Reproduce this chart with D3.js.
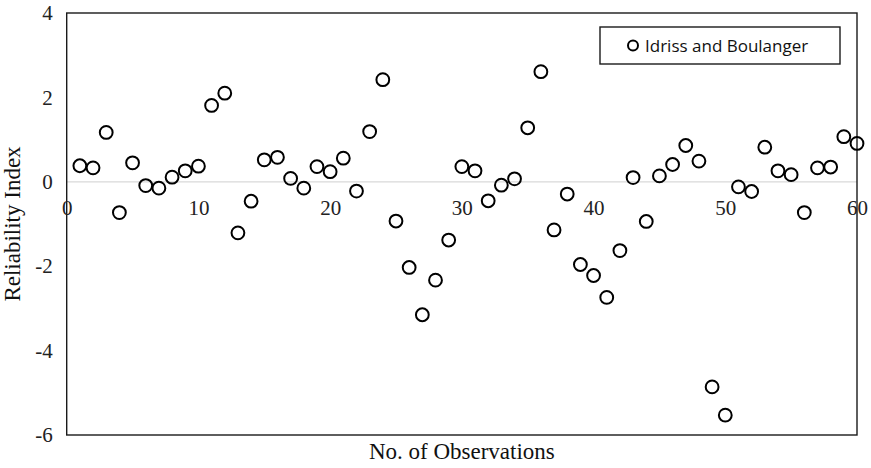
<!DOCTYPE html>
<html>
<head>
<meta charset="utf-8">
<script src="https://cdn.jsdelivr.net/npm/d3@7"></script>
<style>
  html, body { margin: 0; padding: 0; background: #fff; }
  svg { display: block; }
</style>
</head>
<body>
<svg id="chart" width="871" height="468"></svg>
<script>
// Observation numbers 1..60
const observations = [
  1, 2, 3, 4, 5, 6, 7, 8, 9, 10,
  11, 12, 13, 14, 15, 16, 17, 18, 19, 20,
  21, 22, 23, 24, 25, 26, 27, 28, 29, 30,
  31, 32, 33, 34, 35, 36, 37, 38, 39, 40,
  41, 42, 43, 44, 45, 46, 47, 48, 49, 50,
  51, 52, 53, 54, 55, 56, 57, 58, 59, 60
];

// Reliability index for each observation (Idriss and Boulanger)
const reliabilityIndex = [
  0.38, 0.33, 1.17, -0.73, 0.45, -0.09, -0.15, 0.11, 0.26, 0.37,
  1.81, 2.10, -1.21, -0.46, 0.52, 0.58, 0.08, -0.15, 0.36, 0.24,
  0.56, -0.22, 1.19, 2.42, -0.93, -2.03, -3.15, -2.33, -1.38, 0.36,
  0.26, -0.45, -0.08, 0.07, 1.28, 2.61, -1.14, -0.29, -1.96, -2.22,
  -2.74, -1.63, 0.10, -0.94, 0.14, 0.41, 0.86, 0.49, -4.86, -5.53,
  -0.12, -0.23, 0.82, 0.26, 0.17, -0.73, 0.33, 0.35, 1.07, 0.91
];

const xTicks = [0, 10, 20, 30, 40, 50, 60];
const yTicks = [-6, -4, -2, 0, 2, 4];
const seriesName = "Idriss and Boulanger";
const xTitle = "No. of Observations";
const yTitle = "Reliability Index";

const svg = d3.select("#chart");
const plot = { left: 66.7, right: 857, top: 13, bottom: 435 };

const x = d3.scaleLinear().domain([0, 60]).range([plot.left, plot.right]);
const y = d3.scaleLinear().domain([-6, 4]).range([plot.bottom, plot.top]);

const serif = "'Liberation Serif', 'Times New Roman', serif";
// plain hyphen for negatives
const fmt = d => String(d);

// zero reference line
svg.append("line")
  .attr("x1", plot.left).attr("x2", plot.right)
  .attr("y1", y(0)).attr("y2", y(0))
  .attr("stroke", "#d9d9d9").attr("stroke-width", 1.3);

// plot frame
svg.append("rect")
  .attr("x", plot.left).attr("y", plot.top)
  .attr("width", plot.right - plot.left)
  .attr("height", plot.bottom - plot.top)
  .attr("fill", "none")
  .attr("stroke", "#1a1a1a").attr("stroke-width", 1.4);

// y axis labels
const yAxis = d3.axisLeft(y).tickValues(yTicks).tickSize(0).tickPadding(14)
  .tickFormat(fmt);
const gy = svg.append("g").attr("transform", `translate(${plot.left},0)`).call(yAxis);
gy.select(".domain").remove();
gy.selectAll("text")
  .attr("font-family", serif).attr("font-size", 21).attr("fill", "#222");

// x axis labels, placed beside the zero line
const xAxis = d3.axisBottom(x).tickValues(xTicks).tickSize(0)
  .tickFormat(fmt);
const gx = svg.append("g").attr("transform", `translate(0,${y(0)})`).call(xAxis);
gx.select(".domain").remove();
gx.selectAll("text")
  .attr("y", 33.7).attr("dy", 0)
  .attr("font-family", serif).attr("font-size", 21).attr("fill", "#222");

// axis titles
svg.append("text")
  .attr("x", (plot.left + plot.right) / 2).attr("y", 459)
  .attr("text-anchor", "middle")
  .attr("font-family", serif).attr("font-size", 23).attr("fill", "#111")
  .text(xTitle);

svg.append("text")
  .attr("transform", `translate(20,${(plot.top + plot.bottom) / 2}) rotate(-90)`)
  .attr("text-anchor", "middle")
  .attr("font-family", serif).attr("font-size", 23).attr("fill", "#111")
  .text(yTitle);

// data markers
svg.append("g").selectAll("circle")
  .data(observations.map((o, i) => ({ o, v: reliabilityIndex[i] })))
  .join("circle")
  .attr("cx", d => x(d.o))
  .attr("cy", d => y(d.v))
  .attr("r", 6.4)
  .attr("fill", "none")
  .attr("stroke", "#000")
  .attr("stroke-width", 2);

// legend
const legend = svg.append("g");
legend.append("rect")
  .attr("x", 600).attr("y", 27).attr("width", 240).attr("height", 37)
  .attr("fill", "#fff").attr("stroke", "#1a1a1a").attr("stroke-width", 1.4);
legend.append("circle")
  .attr("cx", 633).attr("cy", 45.5).attr("r", 5)
  .attr("fill", "none").attr("stroke", "#000").attr("stroke-width", 2);
legend.append("text")
  .attr("x", 645).attr("y", 51.5)
  .attr("font-family", "'Open Sans', 'Liberation Sans', sans-serif")
  .attr("font-size", 17).attr("fill", "#111")
  .text(seriesName);
</script>
</body>
</html>
